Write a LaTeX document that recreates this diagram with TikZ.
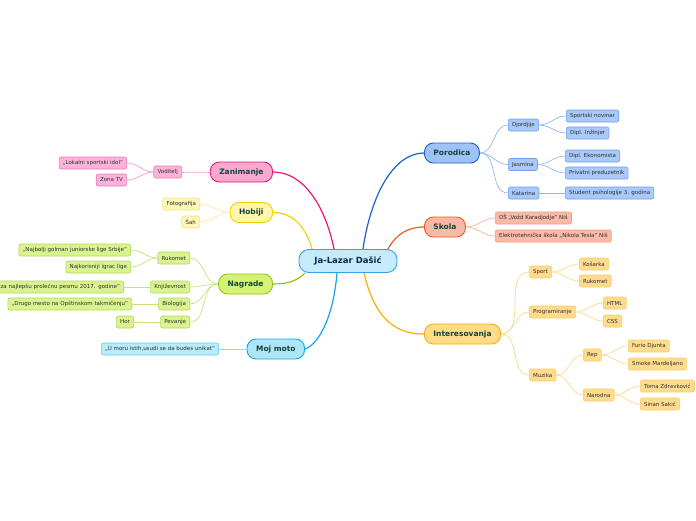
\documentclass[tikz,border=0pt]{standalone}
\usepackage{fontspec}
\setmainfont{DejaVu Sans}
\definecolor{hubfill}{HTML}{C6EBFB}
\definecolor{hubline}{HTML}{3C9FE2}
\definecolor{hubtext}{HTML}{0C2A50}
\definecolor{topictext}{HTML}{16433A}
\definecolor{leaftext}{HTML}{2E2E2E}
\definecolor{zanline}{HTML}{E8157F}
\definecolor{zanfill}{HTML}{F9A8D0}
\definecolor{zanedge}{HTML}{F07ABC}
\definecolor{zanleaf}{HTML}{FBB3D9}
\definecolor{hobline}{HTML}{F0D400}
\definecolor{hobfill}{HTML}{FFF6AB}
\definecolor{hobedge}{HTML}{F3E47A}
\definecolor{hobleaf}{HTML}{FFF8B8}
\definecolor{nagline}{HTML}{8FC21A}
\definecolor{nagfill}{HTML}{D4F373}
\definecolor{nagedge}{HTML}{B3DA4F}
\definecolor{nagleaf}{HTML}{D9F48F}
\definecolor{motoline}{HTML}{12A8E8}
\definecolor{motofill}{HTML}{AEE6F8}
\definecolor{motoedge}{HTML}{70C9EF}
\definecolor{motoleaf}{HTML}{B8ECFB}
\definecolor{porline}{HTML}{1B5FD1}
\definecolor{porfill}{HTML}{9DC3F7}
\definecolor{poredge}{HTML}{6F9FF0}
\definecolor{porleaf}{HTML}{A9C9F9}
\definecolor{skoline}{HTML}{F05A22}
\definecolor{skofill}{HTML}{F8B9A6}
\definecolor{skoedge}{HTML}{F49A80}
\definecolor{skoleaf}{HTML}{F9BAA8}
\definecolor{intline}{HTML}{F6B000}
\definecolor{intfill}{HTML}{FFDB8A}
\definecolor{intedge}{HTML}{F7CC6A}
\definecolor{intleaf}{HTML}{FFDC8D}
\begin{document}
\begin{tikzpicture}[x=1pt, y=-1pt,
  hub/.style={draw=hubline, fill=hubfill, line width=0.9pt, rounded corners=10pt,
    minimum height=23pt, minimum width=98pt, font=\bfseries\fontsize{8.5}{9}\selectfont, text=hubtext},
  topic/.style={draw=#1line, fill=#1fill, line width=0.9pt, rounded corners=9pt,
    minimum height=20pt, inner xsep=9pt, font=\bfseries\fontsize{7.5}{8}\selectfont, text=topictext},
  leaf/.style={draw=#1edge, fill=#1leaf, line width=0.6pt, rounded corners=2pt,
    minimum height=12pt, inner xsep=3.8pt, inner ysep=0pt, font=\fontsize{5.5}{6}\selectfont, text=leaftext},
  trunk/.style={draw=#1line, line width=1.2pt},
  twig/.style={draw=#1edge!75, line width=0.7pt}]
  \useasboundingbox (0,0) rectangle (696,520);

  \node[hub] (lazar) at (348,261) {Ja-Lazar Dašić};

  \node[topic=zan, anchor=east] (zanimanje) at (273,172) {Zanimanje};
  \node[topic=hob, anchor=east] (hobiji) at (273,212.5) {Hobiji};
  \node[topic=nag, anchor=east] (nagrade) at (273,284) {Nagrade};
  \node[topic=moto, anchor=east] (moto) at (305,349) {Moj moto};
  \node[topic=por, anchor=west] (porodica) at (424,153) {Porodica};
  \node[topic=sko, anchor=west] (skola) at (424,227) {Skola};
  \node[topic=int, anchor=west] (interes) at (424,334) {Interesovanja};

  \draw[trunk=zan] ([xshift=-14pt]lazar.north) .. controls +(-8,-40) and +(32,0) .. (zanimanje.east);
  \draw[trunk=hob] ([xshift=-36pt]lazar.north) .. controls +(-6,-22) and +(20,0) .. (hobiji.east);
  \draw[trunk=nag] ([xshift=-43pt]lazar.south) .. controls +(-8,8) and +(15,0) .. (nagrade.east);
  \draw[trunk=moto] ([xshift=-11pt]lazar.south) .. controls +(-4,48) and +(12,-4) .. (moto.east);
  \draw[trunk=por] ([xshift=15pt]lazar.north) .. controls +(8,-55) and +(-30,0) .. (porodica.west);
  \draw[trunk=sko] ([xshift=40pt]lazar.north) .. controls +(8,-15) and +(-16,0) .. (skola.west);
  \draw[trunk=int] ([xshift=16pt]lazar.south) .. controls +(10,42) and +(-32,0) .. (interes.west);

  \node[leaf=zan, anchor=east] (voditelj) at (182,172) {Voditelj};
  \node[leaf=zan, anchor=east] (idol) at (127,163) {,,Lokalni sportski idol''};
  \node[leaf=zan, anchor=east] (zonatv) at (127,180) {Zona TV};
  \draw[twig=zan] (zanimanje.west) to[out=180, in=0] (voditelj.east);
  \draw[twig=zan] (voditelj.west) to[out=180, in=0] (idol.east);
  \draw[twig=zan] (voditelj.west) to[out=180, in=0] (zonatv.east);

  \node[leaf=hob, anchor=east] (foto) at (200,204) {Fotografija};
  \node[leaf=hob, anchor=east] (sah) at (200,222) {Šah};
  \draw[twig=hob] (hobiji.west) to[out=180, in=0] (foto.east);
  \draw[twig=hob] (hobiji.west) to[out=180, in=0] (sah.east);

  \node[leaf=nag, anchor=east] (rukomet) at (190,258) {Rukomet};
  \node[leaf=nag, anchor=east] (golman) at (131,250) {,,Najbolji golman juniorske lige Srbije''};
  \node[leaf=nag, anchor=east] (igrac) at (131,267) {Najkorisniji igrac lige};
  \node[leaf=nag, anchor=east] (knjiz) at (190,287) {Književnost};
  \node[leaf=nag, anchor=east, text width=140pt, align=right] (pesma) at (124,287) {za najlepšu prolećnu pesmu 2017. godine''};
  \node[leaf=nag, anchor=east] (bio) at (190,304) {Biologija};
  \node[leaf=nag, anchor=east] (mesto) at (132,304) {,,Drugo mesto na Opštinskom takmičenju''};
  \node[leaf=nag, anchor=east] (pevanje) at (190,322) {Pevanje};
  \node[leaf=nag, anchor=east] (hor) at (134,322) {Hor};
  \draw[twig=nag] (nagrade.west) to[out=180, in=0] (rukomet.east);
  \draw[twig=nag] (nagrade.west) to[out=180, in=0] (knjiz.east);
  \draw[twig=nag] (nagrade.west) to[out=180, in=0] (bio.east);
  \draw[twig=nag] (nagrade.west) to[out=180, in=0] (pevanje.east);
  \draw[twig=nag] (rukomet.west) to[out=180, in=0] (golman.east);
  \draw[twig=nag] (rukomet.west) to[out=180, in=0] (igrac.east);
  \draw[twig=nag] (knjiz.west) -- (pesma.east);
  \draw[twig=nag] (bio.west) -- (mesto.east);
  \draw[twig=nag] (pevanje.west) -- (hor.east);

  \node[leaf=moto, anchor=east] (unikat) at (219,349) {,,U moru istih,usudi se da budes unikat''};
  \draw[twig=moto] (moto.west) -- (unikat.east);

  \node[leaf=por, anchor=west] (djordjije) at (508,125) {Djordjije};
  \node[leaf=por, anchor=west] (novinar) at (566,116) {Sportski novinar};
  \node[leaf=por, anchor=west] (inzinjer) at (566,133) {Dipl. Inžinjer};
  \node[leaf=por, anchor=west] (jasmina) at (508,164.5) {Jasmina};
  \node[leaf=por, anchor=west] (ekonom) at (565,156) {Dipl. Ekonomista};
  \node[leaf=por, anchor=west] (preduz) at (565,173) {Privatni preduzetnik};
  \node[leaf=por, anchor=west] (katarina) at (508,193) {Katarina};
  \node[leaf=por, anchor=west] (student) at (565,193) {Student psihologije 3. godina};
  \draw[twig=por] (porodica.east) to[out=0, in=180] (djordjije.west);
  \draw[twig=por] (porodica.east) to[out=0, in=180] (jasmina.west);
  \draw[twig=por] (porodica.east) to[out=0, in=180] (katarina.west);
  \draw[twig=por] (djordjije.east) to[out=0, in=180] (novinar.west);
  \draw[twig=por] (djordjije.east) to[out=0, in=180] (inzinjer.west);
  \draw[twig=por] (jasmina.east) to[out=0, in=180] (ekonom.west);
  \draw[twig=por] (jasmina.east) to[out=0, in=180] (preduz.west);
  \draw[twig=por] (katarina.east) -- (student.west);

  \node[leaf=sko, anchor=west] (osnovna) at (495,218) {OŠ ,,Vožd Karadjodje'' Niš};
  \node[leaf=sko, anchor=west] (srednja) at (495,236) {Elektrotehnička škola ,,Nikola Tesla'' Niš};
  \draw[twig=sko] (skola.east) to[out=0, in=180] (osnovna.west);
  \draw[twig=sko] (skola.east) to[out=0, in=180] (srednja.west);

  \node[leaf=int, anchor=west] (sport) at (529,272) {Sport};
  \node[leaf=int, anchor=west] (kosarka) at (579,264) {Košarka};
  \node[leaf=int, anchor=west] (rukomet2) at (579,281) {Rukomet};
  \node[leaf=int, anchor=west] (program) at (529,312) {Programiranje};
  \node[leaf=int, anchor=west] (html) at (603,303) {HTML};
  \node[leaf=int, anchor=west] (css) at (603,321) {CSS};
  \node[leaf=int, anchor=west] (muzika) at (529,375) {Muzika};
  \node[leaf=int, anchor=west] (rep) at (583,355) {Rep};
  \node[leaf=int, anchor=west] (narodna) at (583,395) {Narodna};
  \node[leaf=int, anchor=west] (furio) at (628,346) {Furio Djunta};
  \node[leaf=int, anchor=west] (smoke) at (628,364) {Smoke Mardeljano};
  \node[leaf=int, anchor=west] (toma) at (640,386) {Toma Zdravković};
  \node[leaf=int, anchor=west] (sinan) at (640,404) {Sinan Sakić};
  \draw[twig=int] (interes.east) to[out=0, in=180] (sport.west);
  \draw[twig=int] (interes.east) to[out=0, in=180] (program.west);
  \draw[twig=int] (interes.east) to[out=0, in=180] (muzika.west);
  \draw[twig=int] (sport.east) to[out=0, in=180] (kosarka.west);
  \draw[twig=int] (sport.east) to[out=0, in=180] (rukomet2.west);
  \draw[twig=int] (program.east) to[out=0, in=180] (html.west);
  \draw[twig=int] (program.east) to[out=0, in=180] (css.west);
  \draw[twig=int] (muzika.east) to[out=0, in=180] (rep.west);
  \draw[twig=int] (muzika.east) to[out=0, in=180] (narodna.west);
  \draw[twig=int] (rep.east) to[out=0, in=180] (furio.west);
  \draw[twig=int] (rep.east) to[out=0, in=180] (smoke.west);
  \draw[twig=int] (narodna.east) to[out=0, in=180] (toma.west);
  \draw[twig=int] (narodna.east) to[out=0, in=180] (sinan.west);
\end{tikzpicture}
\end{document}
